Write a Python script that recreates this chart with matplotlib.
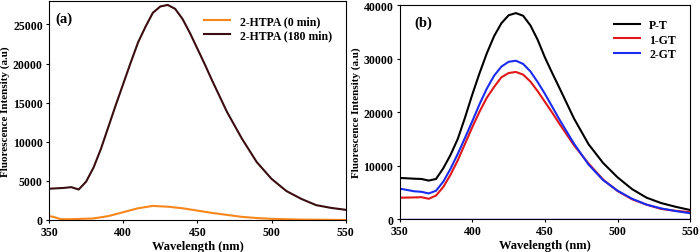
import numpy as np
import matplotlib.pyplot as plt

plt.rcParams['font.family'] = 'Liberation Serif'
plt.rcParams['font.weight'] = 'bold'

# panel (a)
wl_a = [350, 355, 360, 365, 370, 375, 380, 385, 390, 395, 400, 405, 410, 415, 420,
        425, 430, 435, 440, 445, 450, 455, 460, 465, 470, 480, 490, 500, 510, 520,
        530, 540, 550]
htpa_180 = [4000, 4050, 4100, 4200, 3900, 4900, 6700, 9100, 11900, 14700, 17400,
            20100, 22700, 24700, 26500, 27300, 27500, 27000, 25700, 23900, 21900,
            19900, 17800, 15800, 13800, 10400, 7400, 5250, 3700, 2700, 1900, 1550, 1300]
wl_a0 = [350, 353, 358, 365, 380, 390, 400, 410, 420, 430, 440, 450, 460, 470, 480,
         490, 500, 520, 550]
htpa_0 = [500, 400, 100, 100, 200, 500, 1000, 1500, 1800, 1700, 1500, 1200, 900, 650,
          400, 250, 150, 50, 0]

# panel (b)
wl_b = [350, 360, 365, 370, 375, 380, 385, 390, 395, 400, 405, 410, 415, 420, 425,
        430, 435, 440, 445, 450, 455, 460, 470, 480, 490, 500, 510, 520, 530, 540, 550]
pt = [7700, 7550, 7500, 7200, 7500, 9500, 12000, 15000, 19000, 23300, 27300, 31000,
      34200, 36600, 38100, 38500, 38000, 36200, 33500, 30200, 27300, 24500, 18800,
      14000, 10500, 7800, 5600, 4000, 3000, 2300, 1700]
gt1 = [4000, 4050, 4100, 3800, 4400, 6000, 8300, 11000, 14100, 17200, 20100, 22700,
       24700, 26500, 27300, 27500, 27000, 25700, 23900, 21900, 19900, 17800, 13800,
       10400, 7400, 5250, 3700, 2700, 1900, 1550, 1300]
gt2 = [5700, 5200, 5100, 4800, 5300, 7000, 9400, 12200, 15200, 18300, 21500, 24400,
       26800, 28500, 29400, 29600, 29000, 27600, 25600, 23400, 21000, 18600, 14100,
       10200, 7300, 5300, 3800, 2700, 2000, 1500, 1100]

fig = plt.figure(figsize=(7, 2.53), dpi=100)
ax1 = fig.add_axes([0.07, 0.1265, 0.424, 0.8655])
ax2 = fig.add_axes([0.571, 0.13, 0.415, 0.846])

ax1.plot(wl_a0, htpa_0, color='#f7861c', lw=1.5, label='2-HTPA (0 min)')
ax1.plot(wl_a, htpa_180, color='#3a0d10', lw=1.5, label='2-HTPA (180 min)')
ax1.set_xlim(350, 550)
ax1.set_ylim(0, 28000)
ax1.set_yticks([0, 5000, 10000, 15000, 20000, 25000])
ax1.text(0.02, 0.95, '(a)', transform=ax1.transAxes, fontsize=10.5, fontweight='bold', va='top')

ax2.axhline(0, color='#2030d0', lw=1)
ax2.plot(wl_b, pt, color='black', lw=1.5, label='P-T')
ax2.plot(wl_b, gt1, color='#e0181a', lw=1.5, label='1-GT')
ax2.plot(wl_b, gt2, color='#1a2cf0', lw=1.5, label='2-GT')
ax2.set_xlim(350, 550)
ax2.set_ylim(0, 40000)
ax2.set_yticks([0, 10000, 20000, 30000, 40000])
ax2.text(0.05, 0.95, '(b)', transform=ax2.transAxes, fontsize=10.5, fontweight='bold', va='top')

for ax in (ax1, ax2):
    ax.set_xticks([350, 400, 450, 500, 550])
    ax.tick_params(labelsize=8.5, length=2.5, width=0.8, pad=2)
    ax.set_xlabel('Wavelength (nm)', fontsize=9, fontweight='bold', labelpad=1)
    ax.set_ylabel('Fluorescence Intensity (a.u)', fontsize=8, fontweight='bold', labelpad=2)
    for sp in ax.spines.values():
        sp.set_linewidth(0.8)
    ax.legend(frameon=False, loc='upper right', fontsize=8.5, handlelength=2.2,
              labelspacing=0.2, borderaxespad=0.8)
    for t in ax.get_xticklabels() + ax.get_yticklabels():
        t.set_fontweight('bold')

fig.savefig('out.png', dpi=100)
